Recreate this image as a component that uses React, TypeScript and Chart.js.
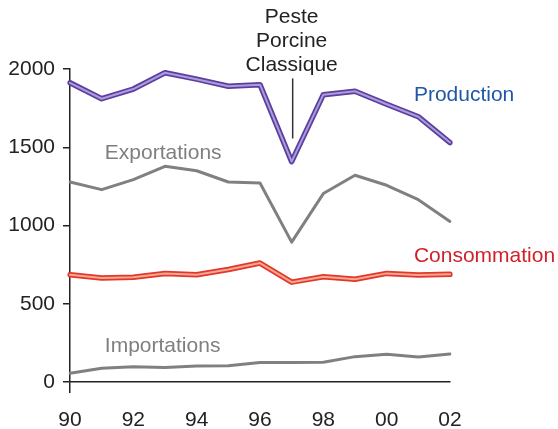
import React, { useEffect, useRef } from "react";
import { Chart, registerables } from "chart.js";

Chart.register(...registerables);

const years = ["90", "91", "92", "93", "94", "95", "96", "97", "98", "99", "00", "01", "02"];
const production = [1912, 1810, 1872, 1976, 1935, 1890, 1900, 1408, 1836, 1858, 1775, 1695, 1530];
const exportations = [1278, 1229, 1293, 1378, 1350, 1278, 1272, 894, 1204, 1321, 1257, 1165, 1026];
const consommation = [685, 664, 670, 693, 685, 719, 760, 638, 672, 657, 694, 683, 688];
const importations = [56, 88, 98, 93, 102, 104, 124, 124, 126, 162, 177, 160, 179];
const yTicks = [0, 500, 1000, 1500, 2000];

const seriesLabels = [
  { text: "Production", x: 10.86, y: 1793, color: "#1f57a6" },
  { text: "Exportations", x: 1.1, y: 1428, color: "#7f7f7f" },
  { text: "Consommation", x: 10.86, y: 768, color: "#d0202a" },
  { text: "Importations", x: 1.1, y: 192, color: "#7f7f7f" },
];
const eventLines = ["Peste", "Porcine", "Classique"];
const eventIndex = 7;
const eventBaselines = [2292, 2138, 1985];
const eventLine = [1940, 1556];

const FONT = "'Liberation Sans', Arial, Helvetica, sans-serif";

export default function App() {
  const ref = useRef<HTMLCanvasElement | null>(null);
  useEffect(() => {
    if (!ref.current) return;
    const textPlugin = {
      id: "texts",
      afterDatasetsDraw(chart: any) {
        const ctx = chart.ctx;
        const xs = chart.scales.x;
        const ys = chart.scales.y;
        ctx.save();
        ctx.font = `21px ${FONT}`;
        ctx.textBaseline = "alphabetic";
        ctx.textAlign = "left";
        for (const l of seriesLabels) {
          ctx.fillStyle = l.color;
          ctx.fillText(l.text, xs.getPixelForValue(l.x), ys.getPixelForValue(l.y));
        }
        ctx.textAlign = "center";
        ctx.fillStyle = "#222";
        const ex = xs.getPixelForValue(eventIndex);
        eventLines.forEach((t, i) => {
          ctx.fillText(t, ex, ys.getPixelForValue(eventBaselines[i]));
        });
        ctx.strokeStyle = "#333";
        ctx.lineWidth = 1.5;
        ctx.beginPath();
        ctx.moveTo(ex + 1, ys.getPixelForValue(eventLine[0]));
        ctx.lineTo(ex + 1, ys.getPixelForValue(eventLine[1]));
        ctx.stroke();
        ctx.restore();
      },
    };
    const mk = (data: number[], color: string, width: number, order: number) => ({
      data,
      borderColor: color,
      backgroundColor: color,
      borderWidth: width,
      pointRadius: 0,
      tension: 0,
      fill: false,
      borderJoinStyle: "round" as const,
      borderCapStyle: "round" as const,
      order,
    });
    const chart = new Chart(ref.current, {
      type: "line",
      data: {
        labels: years,
        datasets: [
          mk(importations, "#808080", 3, 10),
          mk(exportations, "#808080", 3, 9),
          mk(consommation, "#e2382b", 5.5, 8),
          mk(consommation, "#f6a891", 2, 7),
          mk(production, "#5b3f9f", 5.5, 6),
          mk(production, "#ad9cdc", 2, 5),
        ],
      },
      options: {
        animation: false,
        responsive: false,
        maintainAspectRatio: false,
        layout: { padding: { left: 0, right: 108, top: 69, bottom: 0 } },
        plugins: { legend: { display: false }, tooltip: { enabled: false } },
        scales: {
          x: {
            type: "category",
            offset: false,
            afterFit: (s: any) => {
              s.height = 47;
            },
            border: { display: true, color: "#222", width: 1.5 },
            grid: {
              drawOnChartArea: false,
              drawTicks: true,
              tickLength: 11,
              lineWidth: 1.5,
              color: (c: any) => (c.index === 0 ? "#222" : "rgba(0,0,0,0)"),
            },
            ticks: {
              autoSkip: false,
              maxRotation: 0,
              padding: 15,
              color: "#222",
              font: { family: FONT, size: 21 },
              callback: (_v: any, i: number) => (i % 2 === 0 ? years[i] : ""),
            },
          },
          y: {
            min: 0,
            max: 2000,
            afterFit: (s: any) => {
              s.width = 70;
            },
            afterBuildTicks: (s: any) => {
              s.ticks = yTicks.map((v) => ({ value: v }));
            },
            border: { display: true, color: "#222", width: 1.5 },
            grid: {
              drawOnChartArea: false,
              drawTicks: true,
              tickLength: 7,
              lineWidth: 1.5,
              color: "#222",
            },
            ticks: {
              padding: 8,
              color: "#222",
              font: { family: FONT, size: 21 },
              callback: (v: any) => String(v),
            },
          },
        },
      },
      plugins: [textPlugin],
    });
    return () => chart.destroy();
  }, []);
  return (
    <div style={{ position: "fixed", left: 0, top: 0, width: 558, height: 429, background: "#fff" }}>
      <canvas ref={ref} width={558} height={429} style={{ width: 558, height: 429 }} />
    </div>
  );
}
